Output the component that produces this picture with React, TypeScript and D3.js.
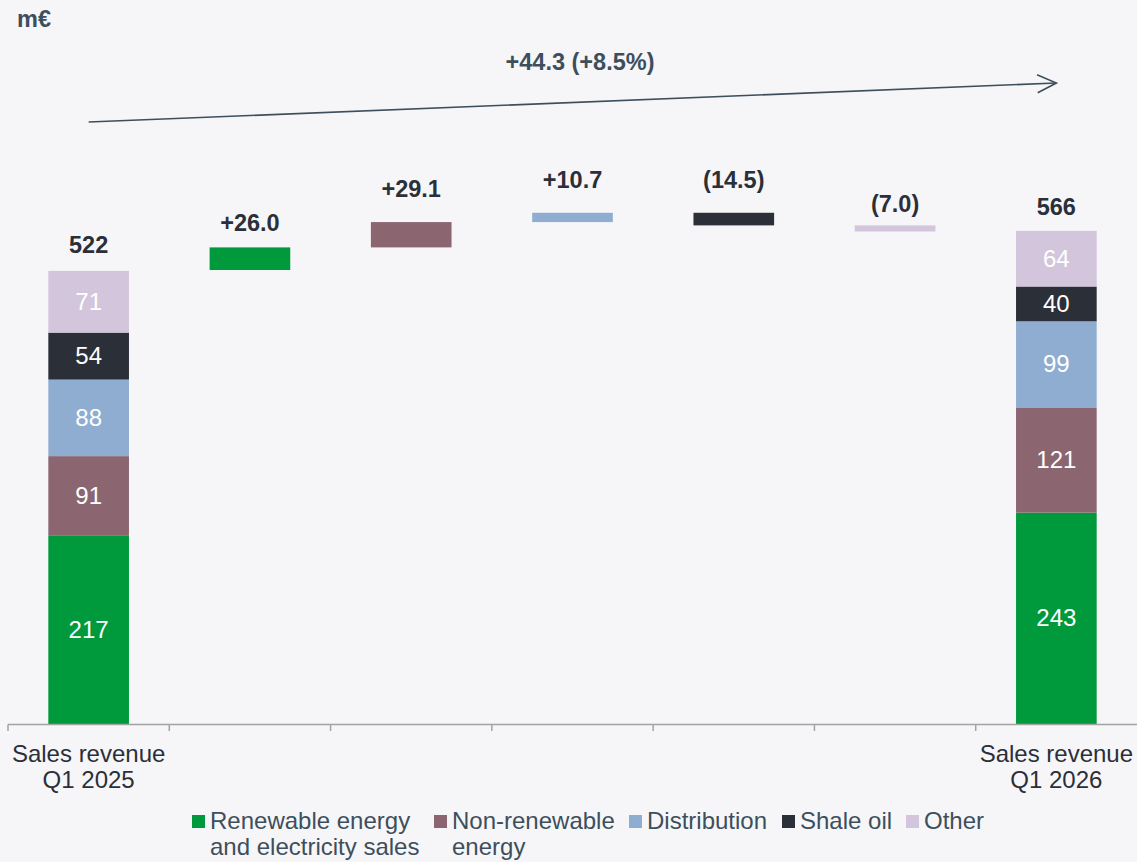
import React from "react";
import * as d3 from "d3";

const categories = ["Sales revenue Q1 2025", "Renewable", "Non-renewable", "Distribution", "Shale oil", "Other", "Sales revenue Q1 2026"];
const axisLabels = [["Sales revenue", "Q1 2025"], [], [], [], [], [], ["Sales revenue", "Q1 2026"]];
const segmentNames = ["Renewable energy and electricity sales", "Non-renewable energy", "Distribution", "Shale oil", "Other"];
const legendLines = [["Renewable energy", "and electricity sales"], ["Non-renewable", "energy"], ["Distribution"], ["Shale oil"], ["Other"]];
const segmentColors = ["#009a3d", "#8b6670", "#8eadd0", "#2b2f38", "#d3c5dc"];
const startValues = [217, 91, 88, 54, 71];
const endValues = [243, 121, 99, 40, 64];
const startTotal = 522;
const endTotal = 566;
const deltas = [26.0, 29.1, 10.7, -14.5, -7.0];
const deltaLabels = ["+26.0", "+29.1", "+10.7", "(14.5)", "(7.0)"];
const changeLabel = "+44.3 (+8.5%)";
const unitLabel = "m€";

const W = 1137;
const H = 862;
const FONT = "'Liberation Sans', Arial, sans-serif";
const BG = "#f6f6f8";
const DARK = "#2b2f38";
const SLATE = "#3d4f5c";
const FS = 24;
const FSB = 23.5;

export default function App() {
  const x = d3.scaleBand<string>().domain(categories).range([8, W]).paddingInner(0.5).paddingOuter(0.25);
  const y = d3.scaleLinear().domain([0, startTotal]).range([724, 270]);
  const bw = x.bandwidth();
  const step = x.step();

  const stackBar = (vals: number[], cat: string) => {
    let acc = 0;
    return vals.map((v, i) => {
      const y0 = acc;
      acc += v;
      const top = y(acc);
      const bot = y(y0);
      return (
        <g key={cat + i}>
          <rect x={x(cat)} y={top} width={bw} height={bot - top} fill={segmentColors[i]} />
          <text x={(x(cat) as number) + bw / 2} y={(top + bot) / 2 + 8} textAnchor="middle" fill="#ffffff" fontSize={FS} fontFamily={FONT}>
            {v}
          </text>
        </g>
      );
    });
  };

  const labelGap = [17, 16, 25, 25, 25, 13, 17];

  let level = startTotal;
  const floats = deltas.map((d, i) => {
    const from = level;
    const to = level + d;
    level = to;
    const cat = categories[i + 1];
    const top = y(Math.max(from, to));
    const bot = y(Math.min(from, to));
    return (
      <g key={"f" + i}>
        <rect x={x(cat)} y={top} width={bw} height={bot - top} fill={segmentColors[i]} />
        <text x={(x(cat) as number) + bw / 2} y={top - labelGap[i + 1]} textAnchor="middle" fill={DARK} fontSize={FSB} fontWeight="bold" fontFamily={FONT}>
          {deltaLabels[i]}
        </text>
      </g>
    );
  });

  const c0 = (x(categories[0]) as number) + bw / 2;
  const c6 = (x(categories[6]) as number) + bw / 2;
  const ax0 = c0, ay0 = 122, ax1 = c6, ay1 = 83;
  const ang = Math.atan2(ay1 - ay0, ax1 - ax0);
  const hl = 19, hw = 9;
  const bx = ax1 - hl * Math.cos(ang), by = ay1 - hl * Math.sin(ang);
  const px = -Math.sin(ang), py = Math.cos(ang);

  const legendX = [192, 434, 629, 782, 906];

  const tickXs = d3.range(0, categories.length).map((i) => 8 + i * step);

  return (
    <svg width={W} height={H} style={{ position: "absolute", left: 0, top: 0, background: BG }} fontFamily={FONT}>
      <rect x={0} y={0} width={W} height={H} fill={BG} />
      <text x={17} y={27} fill={SLATE} fontSize={FSB} fontWeight="bold">{unitLabel}</text>

      <line x1={ax0} y1={ay0} x2={ax1} y2={ay1} stroke={SLATE} strokeWidth={1.6} />
      <polyline
        points={`${bx + px * hw},${by + py * hw} ${ax1},${ay1} ${bx - px * hw},${by - py * hw}`}
        fill="none"
        stroke={SLATE}
        strokeWidth={1.6}
      />
      <text x={580} y={70} textAnchor="middle" fill={SLATE} fontSize={FSB} fontWeight="bold">{changeLabel}</text>

      {stackBar(startValues, categories[0])}
      <text x={c0} y={y(startTotal) - labelGap[0]} textAnchor="middle" fill={DARK} fontSize={FSB} fontWeight="bold">{startTotal}</text>
      {floats}
      {stackBar(endValues, categories[6])}
      <text x={c6} y={y(endTotal) - labelGap[6]} textAnchor="middle" fill={DARK} fontSize={FSB} fontWeight="bold">{endTotal}</text>

      <line x1={8} x2={W} y1={724.5} y2={724.5} stroke="#a3a3a3" strokeWidth={1.5} />
      {tickXs.map((tx, i) => (
        <line key={"t" + i} x1={tx} x2={tx} y1={724.5} y2={731} stroke="#a3a3a3" strokeWidth={1.5} />
      ))}
      {categories.map((c, i) =>
        axisLabels[i].map((ln, j) => (
          <text key={c + j} x={(x(c) as number) + bw / 2} y={762 + j * 26} textAnchor="middle" fill={DARK} fontSize={FS}>
            {ln}
          </text>
        ))
      )}

      {segmentNames.map((n, i) => (
        <g key={n}>
          <rect x={legendX[i]} y={815} width={13} height={13} fill={segmentColors[i]} />
          {legendLines[i].map((ln, j) => (
            <text key={j} x={legendX[i] + 18} y={829 + j * 26} fill={SLATE} fontSize={FS}>
              {ln}
            </text>
          ))}
        </g>
      ))}
    </svg>
  );
}
